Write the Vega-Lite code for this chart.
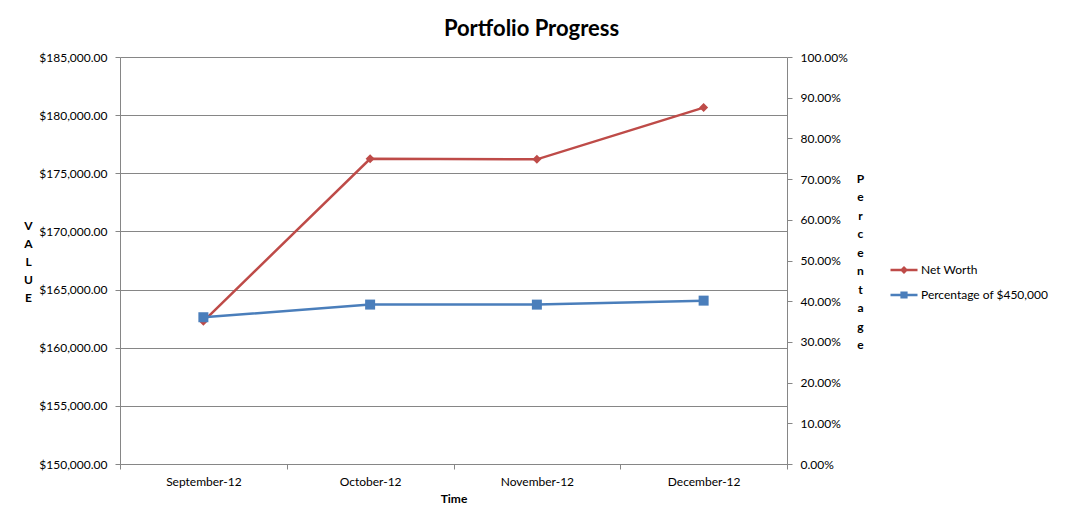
{
  "$schema": "https://vega.github.io/schema/vega-lite/v6.json",
  "width": 667,
  "height": 407,
  "autosize": {"type": "none"},
  "padding": {"left": 120, "top": 57, "right": 278, "bottom": 64},
  "background": "white",
  "config": {
    "view": {"stroke": null},
    "font": "Lato",
    "axis": {
      "domainColor": "#868686",
      "tickColor": "#868686",
      "gridColor": "#868686",
      "tickSize": 5,
      "labelFontSize": 12,
      "labelColor": "#000000",
      "labelFont": "Lato",
      "titleFont": "Lato",
      "titleFontSize": 12,
      "titleFontWeight": "bold",
      "titleColor": "#000000"
    }
  },
  "title": {
    "text": "Portfolio Progress",
    "font": "Lato",
    "fontSize": 22,
    "fontWeight": "bold",
    "color": "#000000",
    "anchor": "middle",
    "dx": 78,
    "offset": 20,
    "dy": 32,
    "baseline": "bottom"
  },
  "data": {
    "values": [
      {"month": "September-12", "networth": 162270, "pct": 0.3606},
      {"month": "October-12", "networth": 176250, "pct": 0.3917},
      {"month": "November-12", "networth": 176200, "pct": 0.3916},
      {"month": "December-12", "networth": 180650, "pct": 0.4014}
    ]
  },
  "encoding": {
    "x": {
      "field": "month",
      "type": "ordinal",
      "sort": null,
      "scale": {"type": "band", "paddingInner": 0, "paddingOuter": 0},
      "axis": {
        "title": "Time",
        "labelAngle": 0,
        "tickBand": "extent",
        "labelPadding": 7,
        "titlePadding": 6,
        "grid": false
      }
    }
  },
  "layer": [
    {
      "encoding": {
        "y": {
          "field": "networth",
          "type": "quantitative",
          "scale": {"domain": [150000, 185000], "nice": false, "zero": false},
          "axis": {
            "orient": "left",
            "values": [150000, 155000, 160000, 165000, 170000, 175000, 180000, 185000],
            "format": "$,.2f",
            "grid": true,
            "labelPadding": 8,
            "title": ["V", "A", "L", "U", "E"],
            "titleAngle": 0,
            "titleX": -92,
            "titleY": 168,
            "titleAlign": "center",
            "titleBaseline": "middle",
            "titleLineHeight": 18
          }
        },
        "color": {
          "datum": "Net Worth",
          "scale": {"domain": ["Net Worth", "Percentage of $450,000"], "range": ["#BE4B48", "#4A7EBB"]},
          "legend": {
            "orient": "none",
            "legendX": 775,
            "legendY": 204,
            "title": null,
            "labelFontSize": 12,
            "labelFont": "Lato",
            "labelColor": "#000000",
            "symbolSize": 324,
            "labelOffset": 8,
            "rowPadding": 10,
            "padding": 0,
            "encode": {
              "symbols": {
                "update": {
                  "shape": {"signal": "datum.value === 'Net Worth' ? 'M-1.5,-0.14H1.5V0.14H-1.5Z M0,-0.45L0.45,0L0,0.45L-0.45,0Z' : 'M-1.5,-0.14H1.5V0.14H-1.5Z M-0.4,-0.4H0.4V0.4H-0.4Z'"},
                  "fill": {"signal": "datum.value === 'Net Worth' ? '#BE4B48' : '#4A7EBB'"},
                  "stroke": {"value": "transparent"},
                  "strokeWidth": {"value": 0},
                  "opacity": {"value": 1}
                }
              }
            }
          }
        }
      },
      "layer": [
        {"mark": {"type": "line", "strokeWidth": 2.5}},
        {"mark": {"type": "point", "shape": "diamond", "filled": true, "size": 81, "opacity": 1}}
      ]
    },
    {
      "encoding": {
        "y": {
          "field": "pct",
          "type": "quantitative",
          "scale": {"domain": [0, 1], "nice": false},
          "axis": {
            "orient": "right",
            "values": [0, 0.1, 0.2, 0.3, 0.4, 0.5, 0.6, 0.7, 0.8, 0.9, 1],
            "format": ".2%",
            "grid": false,
            "labelPadding": 8,
            "title": ["P", "e", "r", "c", "e", "n", "t", "a", "g", "e"],
            "titleAngle": 0,
            "titleX": 73,
            "titleY": 121,
            "titleAlign": "center",
            "titleBaseline": "middle",
            "titleLineHeight": 18.5
          }
        },
        "color": {"datum": "Percentage of $450,000"}
      },
      "layer": [
        {"mark": {"type": "line", "strokeWidth": 2.5}},
        {"mark": {"type": "point", "shape": "square", "filled": true, "size": 100, "opacity": 1}}
      ]
    }
  ],
  "resolve": {"scale": {"y": "independent"}}
}
